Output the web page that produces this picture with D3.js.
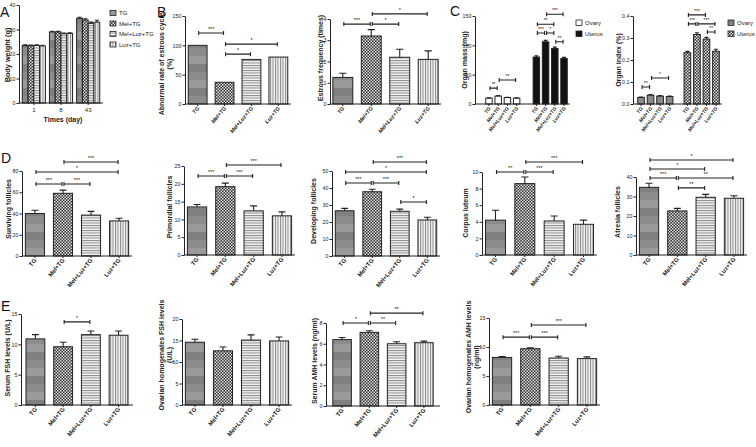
<!DOCTYPE html>
<html><head><meta charset="utf-8">
<script src="https://cdn.jsdelivr.net/npm/d3@7"></script>
<style>body{margin:0;background:#fff}svg{display:block}</style>
</head><body><svg id="chart" width="756" height="447"></svg>
<script>
// ---------------- DATA ----------------
const groups = ["TG","Mel+TG","Mel+Luz+TG","Luz+TG"];
const days = ["1","8","43"];
const tissues = ["Ovary","Uterus"];
// A: body weight per group (rows) per day (cols)
const bodyWeight = [[23.5,29.0,34.6],[23.4,29.0,33.9],[23.5,28.3,32.5],[23.3,28.4,33.0]];
const bodyWeightErr = [[0.3,0.3,0.4],[0.3,0.3,0.5],[0.3,0.3,0.5],[0.3,0.3,0.8]];
const bodyWeightTicks = [0,10,20,30,40];
// B
const abnormalRate = [100,37,76,80];
const abnormalSig = [[0,1,"***",121],[1,2,"*",85],[1,3,"*",102]];
const abnormalTicks = [0,50,100,150];
const estrousFreq = [1.25,3.2,2.2,2.1];
const estrousErr = [0.2,0.3,0.38,0.4];
const estrousSig = [[0,1,"***",3.76],[1,2,"*",3.76],[1,3,"*",4.24]];
const estrousTicks = [0,1,2,3,4];
// C
const massOvary = [10,13.5,11,10];
const massOvaryErr = [0.5,0.7,0.5,0.4];
const massUterus = [80,106,94.5,77.5];
const massUterusErr = [2,2.5,2.5,2];
const massSigOvary = [[0,1,"**",27],[1,3,"**",41]];
const massSigUterus = [[0,1,"***",121],[1,2,"*",121],[0,2,"**",136],[1,3,"***",153],[2,3,"**",106]];
const massTicks = [0,50,100,150];
const indexOvary = [0.030,0.040,0.036,0.034];
const indexOvaryErr = [0.002,0.003,0.002,0.002];
const indexUterus = [0.233,0.316,0.295,0.240];
const indexUterusErr = [0.006,0.008,0.008,0.009];
const indexSigOvary = [[0,1,"**",0.077],[1,3,"*",0.118]];
const indexSigUterus = [[0,2,"***",0.405],[0,1,"***",0.364],[1,3,"***",0.364],[2,3,"**",0.327]];
const indexTicks = [0,0.1,0.2,0.3,0.4];
// D
const surviving = [40,59,38.5,33];
const survivingErr = [3,3,3.5,2.5];
const survivingSig = [[0,1,"***",67.8],[1,2,"***",67.8],[0,3,"*",79],[1,3,"***",88.5]];
const survivingTicks = [0,20,40,60,80];
const primordial = [13.5,19.2,12.4,11];
const primordialErr = [0.7,1.0,1.4,1.1];
const primordialSig = [[0,1,"***",22.2],[1,2,"***",22.2],[1,3,"***",25.3]];
const primordialTicks = [0,5,10,15,20,25];
const developing = [26.6,37.8,26.3,21.2];
const developingErr = [1.4,1.5,1.3,1.6];
const developingSig = [[0,1,"***",42.9],[1,2,"***",42.9],[2,3,"*",31.8],[0,3,"*",49.4],[1,3,"***",55.3]];
const developingTicks = [0,10,20,30,40,50];
const corpus = [4.2,8.6,4.1,3.7];
const corpusErr = [1.2,0.8,0.6,0.5];
const corpusSig = [[0,1,"**",10],[1,2,"***",10],[1,3,"***",11.2]];
const corpusTicks = [0,2,4,6,8,10];
const atresia = [34.7,22.6,29.6,29.1];
const atresiaErr = [2.1,1.3,1.5,1.3];
const atresiaSig = [[0,3,"*",48.7],[0,2,"*",44.1],[0,1,"***",39.5],[1,3,"**",39.5],[1,2,"**",34.4]];
const atresiaTicks = [0,10,20,30,40];
// E
const serumFSH = [10.9,9.6,11.6,11.5];
const serumFSHErr = [0.7,0.75,0.6,0.7];
const serumFSHSig = [[1,2,"*",13.7]];
const serumFSHTicks = [0,5,10,15];
const ovFSH = [14.6,12.6,15.1,14.9];
const ovFSHErr = [0.7,0.9,1.2,0.9];
const ovFSHSig = [];
const ovFSHTicks = [0,5,10,15,20];
const serumAMH = [6.4,7.1,6.0,6.1];
const serumAMHErr = [0.2,0.15,0.2,0.15];
const serumAMHSig = [[0,1,"*",8.0],[1,2,"**",8.0],[1,3,"**",8.95]];
const serumAMHTicks = [0,2,4,6,8];
const ovAMH = [8.2,9.7,8.1,8.0];
const ovAMHErr = [0.15,0.15,0.3,0.3];
const ovAMHSig = [[0,1,"***",11.7],[1,2,"***",11.7],[1,3,"***",13.8]];
const ovAMHTicks = [0,5,10,15];

// ---------------- DRAWING ----------------
const FONT = "'Liberation Sans', Arial, Helvetica, sans-serif";
const INK = "#222";
const svg = d3.select("#chart").attr("font-family", FONT);
const defs = svg.append("defs");
function pat(id, w, h, draw){
  const p = defs.append("pattern").attr("id",id).attr("patternUnits","userSpaceOnUse").attr("width",w).attr("height",h);
  draw(p);
}
pat("pTG",4,24,p=>{
  p.append("rect").attr("width",4).attr("height",8).attr("fill","#8c8c8c");
  p.append("rect").attr("y",8).attr("width",4).attr("height",8).attr("fill","#9a9a9a");
  p.append("rect").attr("y",16).attr("width",4).attr("height",8).attr("fill","#808080");
});
pat("pMel",3,3,p=>{
  p.append("rect").attr("width",3).attr("height",3).attr("fill","#2a2a2a");
  p.append("rect").attr("width",1.5).attr("height",1.5).attr("fill","#e8e8e8");
  p.append("rect").attr("x",1.5).attr("y",1.5).attr("width",1.5).attr("height",1.5).attr("fill","#e8e8e8");
});
pat("pML",4,2.5,p=>{
  p.append("rect").attr("width",4).attr("height",2.5).attr("fill","#f4f4f4");
  p.append("rect").attr("width",4).attr("height",1).attr("fill","#8a8a8a");
});
pat("pLuz",2.5,4,p=>{
  p.append("rect").attr("width",2.5).attr("height",4).attr("fill","#f4f4f4");
  p.append("rect").attr("width",1).attr("height",4).attr("fill","#8a8a8a");
});
const fills = ["url(#pTG)","url(#pMel)","url(#pML)","url(#pLuz)"];

function makeY(L){ return d3.scaleLinear().domain([0,L.max]).range([L.yB,L.yT]); }
function drawYAxis(L, y){
  const a = svg.append("g").attr("transform",`translate(${L.x0},0)`)
    .call(d3.axisLeft(y).tickValues(L.ticks).tickSize(2.5).tickSizeOuter(0).tickPadding(1.1).tickFormat(L.fmt || d3.format("d")));
  a.attr("font-family",FONT).attr("font-size",L.tf||5.3);
  a.select(".domain").attr("stroke",INK).attr("stroke-width",1);
  a.selectAll(".tick line").attr("stroke",INK);
  a.selectAll(".tick text").attr("fill",INK);
}
function drawXAxis(L, centers){
  svg.append("line").attr("x1",L.x0).attr("x2",L.x1).attr("y1",L.yB).attr("y2",L.yB).attr("stroke",INK).attr("stroke-width",1);
  svg.append("g").selectAll("line").data(centers).join("line")
    .attr("x1",d=>d).attr("x2",d=>d).attr("y1",L.yB).attr("y2",L.yB+2).attr("stroke",INK);
}
function drawBars(items, y, yB, capFrac){
  const g = svg.append("g");
  g.selectAll("rect").data(items).join("rect")
    .attr("x",d=>d.x).attr("y",d=>y(d.v)).attr("width",d=>d.w).attr("height",d=>yB-y(d.v))
    .attr("fill",d=>d.fill).attr("stroke",INK).attr("stroke-width",1);
  items.filter(d=>d.e>0).forEach(d=>{
    const cx = d.x+d.w/2, cw = Math.max(1.5, d.w*(capFrac||0.2));
    g.append("path").attr("d",`M${cx},${y(d.v)}V${y(d.v+d.e)}M${cx-cw},${y(d.v+d.e)}H${cx+cw}`)
      .attr("stroke",INK).attr("stroke-width",1.1).attr("fill","none");
  });
}
function drawBrackets(sig, xc, y, fs){
  const g = svg.append("g");
  sig.forEach(([i,j,lab,v])=>{
    const a = xc(i)+1, b = xc(j)-1, yy = y(v);
    g.append("path").attr("d",`M${a},${yy-2}V${yy+2}M${a},${yy}H${b}M${b},${yy-2}V${yy+2}`)
      .attr("stroke",INK).attr("stroke-width",1.1).attr("fill","none");
    g.append("text").attr("x",(a+b)/2).attr("y",yy-2.2).attr("text-anchor","middle")
      .attr("font-size",fs||5.5).attr("fill",INK).text(lab);
  });
}
function rotLabels(items, yB, fs, italic, ang){
  items.forEach(([cx,t])=>{
    svg.append("text").attr("transform",`translate(${cx+2},${yB+4.5}) rotate(${ang||-50})`)
      .attr("text-anchor","end").attr("font-size",fs).attr("font-weight","bold")
      .attr("font-style",italic?"italic":"normal").attr("fill",INK).text(t);
  });
}
function yLabel(lines, x, cy, fs){
  lines.forEach((t,k)=>{
    svg.append("text").attr("transform",`translate(${x+k*(fs+1)},${cy}) rotate(-90)`)
      .attr("text-anchor","middle").attr("font-size",fs).attr("font-weight","bold").attr("fill",INK).text(t);
  });
}
function letter(t,x,y){ svg.append("text").attr("x",x).attr("y",y).attr("font-size",14).attr("fill","#111").text(t); }

function groupPanel(L, vals, errs, sig){
  const y = makeY(L);
  const x = d3.scaleBand().domain(groups).range([L.x0, L.x1]).paddingInner(L.pi ?? 0.32).paddingOuter(L.po ?? 0.12);
  const bw = x.bandwidth();
  const xc = i => x(groups[i]) + bw/2;
  drawBars(groups.map((g,i)=>({x:x(g), w:bw, v:vals[i], e:errs?errs[i]:0, fill:fills[i]})), y, L.yB, 0.18);
  drawYAxis(L, y);
  drawXAxis(L, groups.map((g,i)=>xc(i)));
  rotLabels(groups.map((g,i)=>[xc(i),g]), L.yB, L.lf||6, L.italic);
  drawBrackets(sig, xc, y, L.sf||5.5);
  yLabel(L.label, L.lx, L.ly, L.yf||7);
}

function tissuePanel(L, ov, ovE, ut, utE, sigO, sigU, tFills, legFills){
  const y = makeY(L);
  const outer = d3.scaleBand().domain(tissues).range([L.bx0, L.bx1]).paddingInner(L.pi).paddingOuter(L.po);
  const inner = d3.scaleBand().domain(groups).range([0, outer.bandwidth()]).paddingInner(0.3);
  const bw = inner.bandwidth();
  const xcT = t => i => outer(t) + inner(groups[i]) + bw/2;
  const items = [];
  [[ov,ovE,"Ovary"],[ut,utE,"Uterus"]].forEach(([vals,errs,t],k)=>{
    groups.forEach((g,i)=>items.push({x:outer(t)+inner(g), w:bw, v:vals[i], e:errs[i], fill:tFills[k]}));
  });
  drawBars(items, y, L.yB, 0.3);
  drawYAxis(L, y);
  const centers = items.map(d=>d.x+d.w/2);
  drawXAxis(L, centers);
  rotLabels(items.map((d,k)=>[d.x+d.w/2, groups[k%4]]), L.yB, 5, true, -52);
  drawBrackets(sigO, xcT("Ovary"), y, 5);
  drawBrackets(sigU, xcT("Uterus"), y, 5);
  yLabel(L.label, L.lx, L.ly, 7);
  tissues.forEach((t,k)=>{
    svg.append("rect").attr("x",L.legX).attr("y",L.legY+k*11).attr("width",6).attr("height",5.5)
      .attr("fill",legFills[k]).attr("stroke",INK).attr("stroke-width",0.8);
    svg.append("text").attr("x",L.legX+9).attr("y",L.legY+k*11+5).attr("font-size",6).attr("fill",INK).text(t);
  });
}

// ---- Panel A ----
(function(){
  const L = {x0:19, x1:103, yT:5, yB:103, max:40, ticks:bodyWeightTicks};
  const y = makeY(L);
  const outer = d3.scaleBand().domain(days).range([L.x0, L.x1]).paddingInner(0.15).paddingOuter(0.12);
  const inner = d3.scaleBand().domain(groups).range([0, outer.bandwidth()]);
  const items = [];
  groups.forEach((g,i)=>days.forEach((d,j)=>items.push({x:outer(d)+inner(g), w:inner.bandwidth(), v:bodyWeight[i][j], e:bodyWeightErr[i][j], fill:fills[i]})));
  drawBars(items, y, L.yB, 0.35);
  drawYAxis(L, y);
  drawXAxis(L, days.map(d=>outer(d)+outer.bandwidth()/2));
  days.forEach(d=>svg.append("text").attr("x",outer(d)+outer.bandwidth()/2).attr("y",L.yB+8.5)
    .attr("text-anchor","middle").attr("font-size",6).attr("fill",INK).text(d));
  svg.append("text").attr("x",63).attr("y",122).attr("text-anchor","middle").attr("font-size",7).attr("font-weight","bold").attr("fill",INK).text("Times (day)");
  yLabel(["Body weight (g)"], 10, 55, 7.3);
  groups.forEach((g,i)=>{
    svg.append("rect").attr("x",110).attr("y",10.5+i*10.5).attr("width",6).attr("height",5)
      .attr("fill",fills[i]).attr("stroke",INK).attr("stroke-width",0.8);
    svg.append("text").attr("x",119).attr("y",15+i*10.5).attr("font-size",6).attr("fill",INK).text(g);
  });
  letter("A",0,17);
})();

// ---- Panel B ----
letter("B",157,17);
groupPanel({x0:185,x1:291,yT:16,yB:104,max:150,ticks:abnormalTicks,pi:0.3,lf:5.5,italic:true,
  label:["Abnormal rate of estrous cycle","(%)"],lx:164,ly:64}, abnormalRate, null, abnormalSig);
groupPanel({x0:330,x1:441,yT:19,yB:104,max:4,ticks:estrousTicks,pi:0.3,po:0.1,lf:5.5,italic:true,
  label:["Estrous frequency (times)"],lx:323,ly:58}, estrousFreq, estrousErr, estrousSig);

// ---- Panel C ----
letter("C",450,16);
tissuePanel({x0:475,x1:570,yT:16,yB:104,max:150,ticks:massTicks,bx0:481,bx1:572,pi:0.28,po:0.1,
  label:["Organ mass (mg)"],lx:467,ly:60,legX:576,legY:20},
  massOvary,massOvaryErr,massUterus,massUterusErr,massSigOvary,massSigUterus,["#ffffff","#111111"],["#ffffff","#111111"]);
tissuePanel({x0:633,x1:722,yT:16,yB:104,max:0.4,ticks:indexTicks,fmt:d3.format(".1f"),bx0:634,bx1:723,pi:0.24,po:0.08,
  label:["Organ index (%)"],lx:621,ly:60,legX:728,legY:20},
  indexOvary,indexOvaryErr,indexUterus,indexUterusErr,indexSigOvary,indexSigUterus,[fills[0],fills[1]],[fills[0],fills[1]]);

// ---- Panel D ----
letter("D",1,163);
groupPanel({x0:22,x1:132,yT:171,yB:256,max:80,ticks:survivingTicks,label:["Surviving follicles"],lx:11,ly:209},
  surviving,survivingErr,survivingSig);
groupPanel({x0:184,x1:295,yT:166,yB:255,max:25,ticks:primordialTicks,label:["Primordial follicles"],lx:172,ly:207},
  primordial,primordialErr,primordialSig);
groupPanel({x0:332,x1:440,yT:171,yB:256,max:50,ticks:developingTicks,label:["Developing follicles"],lx:316,ly:211},
  developing,developingErr,developingSig);
groupPanel({x0:482,x1:597,yT:172,yB:255,max:10,ticks:corpusTicks,label:["Corpus luteum"],lx:468,ly:213},
  corpus,corpusErr,corpusSig);
groupPanel({x0:636,x1:747,yT:177,yB:255,max:40,ticks:atresiaTicks,label:["Atresia follicles"],lx:620,ly:212},
  atresia,atresiaErr,atresiaSig);

// ---- Panel E ----
letter("E",1,311);
groupPanel({x0:21,x1:133,yT:314,yB:405,max:15,ticks:serumFSHTicks,po:0.18,label:["Serum FSH levels (U/L)"],lx:10,ly:358},
  serumFSH,serumFSHErr,serumFSHSig);
groupPanel({x0:182,x1:292,yT:319,yB:405,max:20,ticks:ovFSHTicks,label:["Ovarian homogenates FSH levels","(U/L)"],lx:164,ly:355},
  ovFSH,ovFSHErr,ovFSHSig);
groupPanel({x0:326,x1:440,yT:323,yB:406,max:8,ticks:serumAMHTicks,po:0.25,label:["Serum AMH levels (ng/ml)"],lx:317,ly:361},
  serumAMH,serumAMHErr,serumAMHSig);
groupPanel({x0:489,x1:600,yT:318,yB:405,max:15,ticks:ovAMHTicks,label:["Ovarian homogenates AMH levels","(ng/ml)"],lx:471,ly:357},
  ovAMH,ovAMHErr,ovAMHSig);
</script></body></html>
